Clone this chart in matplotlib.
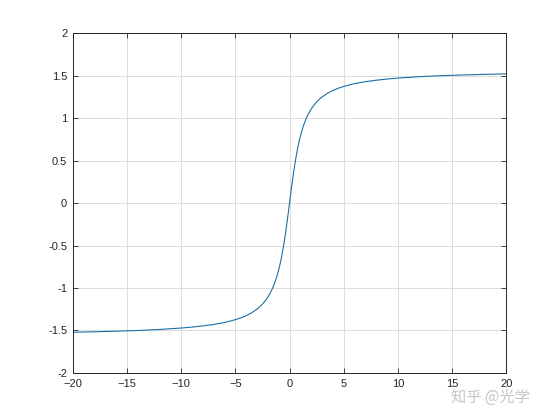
import matplotlib
matplotlib.use("Agg")
import matplotlib.pyplot as plt

# values (right half; the left half mirrors it)
x_right = [0, 0.1, 0.2, 0.3, 0.4, 0.5, 0.6, 0.7, 0.8, 0.9, 1.0, 1.1, 1.2, 1.3,
           1.4, 1.5, 1.6, 1.8, 2.0, 2.2, 2.5, 2.8, 3.0, 3.5, 4.0, 4.5, 5.0, 6.0,
           7.0, 8.0, 9.0, 10.0, 12.0, 14.0, 16.0, 18.0, 20.0]
y_right = [0, 0.100, 0.197, 0.291, 0.381, 0.464, 0.540, 0.611, 0.675, 0.733,
           0.785, 0.833, 0.876, 0.915, 0.951, 0.983, 1.012, 1.064, 1.107, 1.144,
           1.190, 1.228, 1.249, 1.292, 1.326, 1.352, 1.373, 1.406, 1.429, 1.446,
           1.460, 1.471, 1.488, 1.500, 1.508, 1.515, 1.521]

x_vals = [-v for v in x_right[:0:-1]] + x_right
y_vals = [-v for v in y_right[:0:-1]] + y_right

x_ticks = [-20, -15, -10, -5, 0, 5, 10, 15, 20]
y_ticks = [-2, -1.5, -1, -0.5, 0, 0.5, 1, 1.5, 2]
y_labels = ["-2", "-1.5", "-1", "-0.5", "0", "0.5", "1", "1.5", "2"]

plt.rcParams["font.family"] = ["Liberation Sans", "DejaVu Sans"]

fig = plt.figure(figsize=(5.6, 4.2), dpi=100)
ax = fig.add_axes([0.13, 0.112, 0.774, 0.809])

ax.plot(x_vals, y_vals, color="#1a6fa8", lw=0.8)

ax.set_xlim(-20, 20)
ax.set_ylim(-2, 2)
ax.set_xticks(x_ticks)
ax.set_yticks(y_ticks)
ax.set_yticklabels(y_labels)
ax.grid(True, color="#dcdcdc", lw=0.7)
ax.set_axisbelow(True)
ax.tick_params(direction="in", length=3.5, width=0.6, top=True, right=True,
               labelsize=8, colors="#262626", pad=4)
for s in ax.spines.values():
    s.set_linewidth(0.7)
    s.set_color("#262626")

fig.text(0.875, 0.055, "知乎 @光学", fontsize=11, color="#b8b8b8", alpha=0.8,
         ha="center", va="center", family=["Noto Sans CJK SC", "DejaVu Sans"])

fig.savefig("out.png", dpi=100, facecolor="white")
